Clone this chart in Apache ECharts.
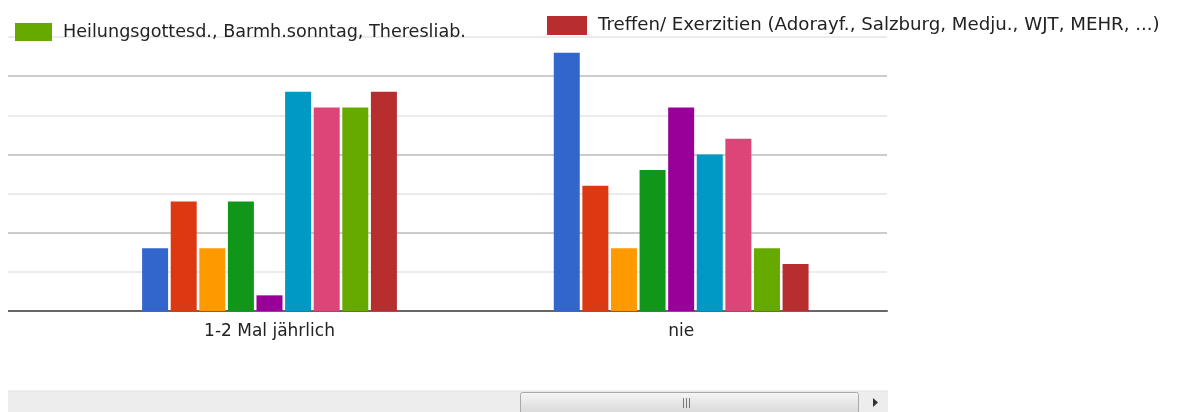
<!DOCTYPE html>
<html>
<head>
<meta charset="utf-8">
<script src="https://cdn.jsdelivr.net/npm/echarts@6/dist/echarts.min.js"></script>
<style>
  html, body { margin: 0; padding: 0; background: #fff; }
  #bar_chart { width: 1184px; height: 412px; }
</style>
</head>
<body>
<div id="bar_chart"></div>
<script>
// categories: the first one is scrolled out of view on the left
const categories = ['', '1-2 Mal jährlich', 'nie'];
const seriesNames = [
  'Reihe 1', 'Reihe 2', 'Reihe 3', 'Reihe 4', 'Reihe 5', 'Reihe 6', 'Reihe 7',
  'Heilungsgottesd., Barmh.sonntag, Theresliab.',
  'Treffen/ Exerzitien (Adorayf., Salzburg, Medju., WJT, MEHR, ...)'
];
const colors = ['#3366cc', '#dc3912', '#ff9900', '#109618', '#990099',
  '#0099c6', '#dd4477', '#66aa00', '#b82e2e'];
const valuesJaehrlich = [4, 7, 4, 7, 1, 14, 13, 13, 14];
const valuesNie = [16.5, 8, 4, 9, 13, 10, 11, 4, 3];

const font = 'DejaVu Sans';

const series = seriesNames.map((name, i) => ({
  name: name,
  type: 'bar',
  barWidth: 26,
  barGap: '10%',
  data: [null, valuesJaehrlich[i], valuesNie[i]],
  itemStyle: { color: colors[i] }
}));

const legendBase = {
  orient: 'horizontal',
  icon: 'rect',
  itemWidth: 37,
  itemHeight: 18,
  selectedMode: false,
  textStyle: { fontFamily: font, fontSize: 17.6, color: '#222', padding: [0, 0, 0, 6] }
};

const option = {
  animation: false,
  color: colors,
  legend: [
    Object.assign({}, legendBase, { data: [seriesNames[7]], left: 10, top: 18 }),
    Object.assign({}, legendBase, {
      data: [seriesNames[8]], left: 542, top: 11, itemWidth: 40, itemHeight: 19,
      textStyle: Object.assign({}, legendBase.textStyle, { fontSize: 18.2, padding: [0, 0, 0, 6] })
    })
  ],
  grid: {
    left: -348,
    right: 297,
    top: 37,
    bottom: 101,
    containLabel: false,
    outerBoundsMode: 'none'
  },
  xAxis: {
    type: 'category',
    data: categories,
    axisTick: { show: false },
    axisLine: { lineStyle: { color: '#666', width: 2 } },
    axisLabel: { fontFamily: font, fontSize: 17, color: '#222', margin: 12 }
  },
  yAxis: {
    type: 'value',
    min: 0,
    max: 17.5,
    interval: 2.5,
    axisLabel: { show: false },
    axisLine: { show: false },
    axisTick: { show: false },
    splitLine: {
      show: true,
      lineStyle: { color: ['#cccccc', '#ebebeb'], width: 2 }
    }
  },
  series: series,
  graphic: [
    // left edge of the scroll container
    { type: 'rect', left: 0, top: 0, shape: { width: 8, height: 390 }, style: { fill: '#fff' }, z: 100 },
    // horizontal scrollbar
    { type: 'rect', shape: { x: 8, y: 391, width: 880, height: 21 }, style: { fill: '#ededed' }, z: 100 },
    { type: 'line', shape: { x1: 8, y1: 391, x2: 888, y2: 391 }, style: { stroke: '#e2e2e2', lineWidth: 1 }, z: 100 },
    {
      type: 'rect', shape: { x: 520.5, y: 392.5, width: 338, height: 22, r: 2 },
      style: {
        fill: new echarts.graphic.LinearGradient(0, 0, 0, 1, [
          { offset: 0, color: '#f6f6f6' }, { offset: 1, color: '#d6d6d6' }
        ]),
        stroke: '#a9a9a9', lineWidth: 1
      }, z: 101
    },
    { type: 'line', shape: { x1: 683.5, y1: 398, x2: 683.5, y2: 408 }, style: { stroke: '#777', lineWidth: 1 }, z: 102 },
    { type: 'line', shape: { x1: 686.5, y1: 398, x2: 686.5, y2: 408 }, style: { stroke: '#777', lineWidth: 1 }, z: 102 },
    { type: 'line', shape: { x1: 689.5, y1: 398, x2: 689.5, y2: 408 }, style: { stroke: '#777', lineWidth: 1 }, z: 102 },
    { type: 'polygon', shape: { points: [[873, 398], [878, 402.5], [873, 407]] }, style: { fill: '#333' }, z: 102 }
  ]
};

const chart = echarts.init(document.getElementById('bar_chart'));
chart.setOption(option);
window.addEventListener('resize', () => {
  chart.resize();
});
</script>
</body>
</html>
